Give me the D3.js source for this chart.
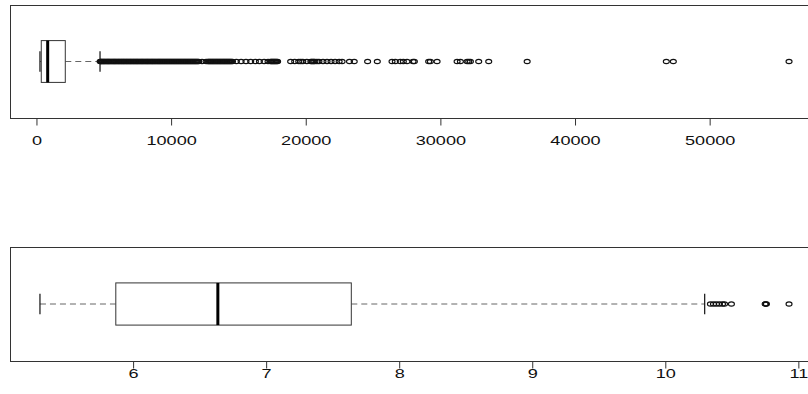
<!DOCTYPE html>
<html>
<head>
<meta charset="utf-8">
<script src="https://cdn.jsdelivr.net/npm/d3@7"></script>
<style>
  body { margin: 0; background: #fff; }
  svg { display: block; }
  .tick text { font-family: "Liberation Sans", Arial, sans-serif; font-size: 12.5px; fill: #111; }
</style>
</head>
<body>
<div id="chart"></div>
<script>
// top panel: raw values
var sizeTicks = [0, 10000, 20000, 30000, 40000, 50000];
// lower whisker, Q1, median, Q3, upper whisker
var sizeStats = [260, 357, 833, 2141, 4721];
var sizeOutliers = [
  4730, 4820, 4940, 5050, 5180, 5300, 5410, 5540, 5670, 5790, 5910, 6040, 6160, 6290, 6410,
  6530, 6660, 6780, 6910, 7030, 7160, 7280, 7410, 7530, 7660, 7790, 7910, 8040, 8170, 8290,
  8420, 8550, 8670, 8800, 8930, 9060, 9180, 9310, 9440, 9570, 9700, 9830, 9960, 10090, 10220,
  10350, 10480, 10610, 10740, 10870, 11000, 11130, 11260, 11390, 11520, 11650, 11780, 11910, 12050,
  4775, 4880, 5000, 5115, 5240, 5355, 5475, 5605, 5730, 5850, 5975, 6100, 6225, 6350, 6470,
  6595, 6720, 6845, 6970, 7095, 7220, 7345, 7470, 7595, 7725, 7850, 7975, 8105, 8230, 8355,
  8485, 8610, 8735, 8865, 8995, 9120, 9245, 9375, 9505, 9635, 9765, 9895, 10025, 10155, 10285,
  10415, 10545, 10675, 10805, 10935, 11065, 11195, 11325, 11455, 11585, 11715, 11845, 11980,
  12300, 12600,
  12720, 12850, 12980, 13110, 13240, 13370, 13500, 13630, 13760, 13890, 14020, 14150, 14280, 14410, 14560,
  12785, 12915, 13045, 13175, 13305, 13435, 13565, 13695, 13825, 13955, 14085, 14215, 14345, 14485,
  14850, 15200, 15560, 15910, 16260, 16560, 16910, 17200,
  17380, 17510, 17640, 17770, 17910, 17445, 17575, 17705, 17840,
  18880, 19180, 19480, 19630, 19780, 20080, 20380, 20450, 20530, 20600, 20680, 20830, 20980,
  21280, 21580, 21880, 22180, 22480, 22700,
  23250, 23600, 24595, 25316, 26409, 26654, 27026, 27249, 27524, 27970, 28067,
  29130, 29257, 29755, 31242, 31487, 31985, 32104, 32230, 32847, 33591, 36446,
  46781, 47301, 55896
];

// bottom panel: log values
var logTicks = [6, 7, 8, 9, 10, 11];
var logStats = [5.30, 5.87, 6.637, 7.64, 10.296];
var logOutliers = [10.339, 10.362, 10.384, 10.407, 10.43, 10.445, 10.497, 10.75, 10.755, 10.76, 10.93];

var W = 808, H = 394;
var svg = d3.select("#chart").append("svg").attr("width", W).attr("height", H);

function boxPanel(stats, outliers, ticks, top, bottom, labelPad) {
  var left = 10, right = 819;
  var lo = d3.min([stats[0]].concat(outliers)),
      hi = d3.max([stats[4]].concat(outliers));
  var ext = (hi - lo) * 0.04;
  var x = d3.scaleLinear().domain([lo - ext, hi + ext]).range([left, right]);
  var y = d3.scaleLinear().domain([0.5, 1.5]).range([bottom, top]);
  var g = svg.append("g");

  // frame
  g.append("rect")
    .attr("x", left + 0.5).attr("y", top + 0.5)
    .attr("width", right - left).attr("height", bottom - top)
    .attr("fill", "none").attr("stroke", "#333").attr("stroke-width", 1);

  var cy = y(1);
  // whiskers (dashed)
  g.selectAll("line.whisker")
    .data([[stats[0], stats[1]], [stats[3], stats[4]]])
    .enter().append("line")
      .attr("class", "whisker")
      .attr("x1", function(d) { return x(d[0]); })
      .attr("x2", function(d) { return x(d[1]); })
      .attr("y1", cy).attr("y2", cy)
      .attr("stroke", "#666").attr("stroke-dasharray", "6,4");

  // whisker caps
  g.selectAll("line.cap")
    .data([stats[0], stats[4]])
    .enter().append("line")
      .attr("class", "cap")
      .attr("x1", function(d) { return x(d); })
      .attr("x2", function(d) { return x(d); })
      .attr("y1", y(0.91)).attr("y2", y(1.09))
      .attr("stroke", "#111").attr("stroke-width", 1.2);

  // box
  g.append("rect")
    .attr("x", x(stats[1])).attr("y", y(1.185))
    .attr("width", x(stats[3]) - x(stats[1]))
    .attr("height", y(0.815) - y(1.185))
    .attr("fill", "#fff").attr("stroke", "#333").attr("stroke-width", 1);

  // median
  g.append("line")
    .attr("x1", x(stats[2])).attr("x2", x(stats[2]))
    .attr("y1", y(1.185)).attr("y2", y(0.815))
    .attr("stroke", "#000").attr("stroke-width", 3);

  // outliers
  g.selectAll("ellipse.out")
    .data(outliers)
    .enter().append("ellipse")
      .attr("class", "out")
      .attr("cx", function(d) { return x(d); })
      .attr("cy", cy)
      .attr("rx", 3).attr("ry", 2.1)
      .attr("fill", "none").attr("stroke", "#111").attr("stroke-width", 1.1);

  // axis
  var ax = g.append("g")
    .attr("transform", "translate(0," + (bottom + 0.5) + ")")
    .call(d3.axisBottom(x).tickValues(ticks).tickSize(7).tickPadding(labelPad)
      .tickFormat(function(d) { return String(d); }));
  ax.select(".domain").remove();
  ax.selectAll(".tick line").attr("stroke", "#333");
  ax.selectAll(".tick text").attr("transform", "scale(1.45,1)");
}

boxPanel(sizeStats, sizeOutliers, sizeTicks, 5, 118, 10.6);
boxPanel(logStats, logOutliers, logTicks, 247, 361, 0.2);
</script>
</body>
</html>
